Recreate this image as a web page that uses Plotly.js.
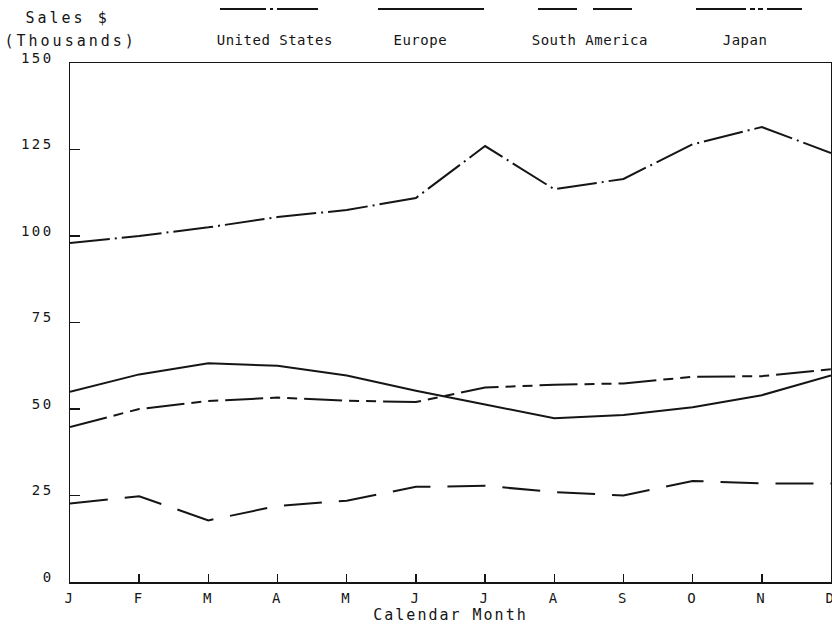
<!DOCTYPE html>
<html>
<head>
<meta charset="utf-8">
<script src="https://cdn.plot.ly/plotly-3.0.1.min.js"></script>
<style>
  html, body { margin: 0; padding: 0; background: #fff; }
  #chart { width: 832px; height: 627px; }
  .main-svg .ytick text, .main-svg .xtick text { letter-spacing: 2.5px; }
</style>
</head>
<body>
<div id="chart"></div>
<script>
// ---- data ----
const months = ['J','F','M','A','M','J','J','A','S','O','N','D'];
const unitedStates = [98, 100, 102.5, 105.5, 107.5, 111, 126, 113.5, 116.5, 126.5, 131.5, 124];
const europe       = [55, 60, 63.2, 62.5, 59.7, 55.3, 51.3, 47.3, 48.3, 50.5, 54, 59.7];
const southAmerica = [22.7, 24.8, 17.8, 22, 23.5, 27.5, 27.8, 26, 25, 29.2, 28.5, 28.5];
const japan        = [44.8, 50, 52.3, 53.3, 52.4, 52, 56.2, 57, 57.4, 59.3, 59.5, 61.5];
const seriesNames  = ['United States', 'Europe', 'South America', 'Japan'];
const yTicks = [0, 25, 50, 75, 100, 125, 150];

const xIdx = months.map((m, i) => i);

// ---- styling ----
const FONT = 'DejaVu Sans Mono, Liberation Mono, monospace';
const INK = '#151515';
const dashes = {
  'United States': '40px,5px,2px,5px',
  'Europe': 'solid',
  'South America': '38px,17px',
  'Japan': '38px,7px,10px,7px,10px,7px'
};
const seriesData = [unitedStates, europe, southAmerica, japan];

const traces = seriesNames.map((name, k) => ({
  type: 'scatter',
  mode: 'lines',
  name: name,
  x: xIdx,
  y: seriesData[k],
  line: { color: INK, width: 2, dash: dashes[name] },
  showlegend: false,
  hoverinfo: 'skip'
}));

// pixel -> paper helpers (plot area: x 70..831, y 63..582)
const L = 70, R = 831, T = 63, B = 582;
const px = v => (v - L) / (R - L);
const py = v => (B - v) / (B - T);

// legend swatches above labels
const legendItems = [
  { name: 'United States', x0: 220, x1: 318, cx: 275 },
  { name: 'Europe',        x0: 378, x1: 484, cx: 420 },
  { name: 'South America', x0: 538, x1: 634, cx: 590 },
  { name: 'Japan',         x0: 696, x1: 802, cx: 745 }
];
const legendDash = {
  'United States': '46px,4px,3px,4px',
  'Europe': 'solid',
  'South America': '39px,16px',
  'Japan': '50px,4px,5px,3px,5px,4px'
};

const shapes = legendItems.map(it => ({
  type: 'line', xref: 'paper', yref: 'paper',
  x0: px(it.x0), x1: px(it.x1), y0: py(9), y1: py(9),
  line: { color: INK, width: 2, dash: legendDash[it.name] }
}));

const annotations = legendItems.map(it => ({
  xref: 'paper', yref: 'paper', x: px(it.cx), y: py(40),
  xanchor: 'center', yanchor: 'middle', showarrow: false,
  text: it.name, font: { family: FONT, size: 14, color: INK }
}));
annotations.push({
  xref: 'paper', yref: 'paper', x: px(67), y: py(18),
  xanchor: 'center', yanchor: 'middle', showarrow: false,
  text: 'Sales $', font: { family: FONT, size: 15, color: INK }
});
annotations.push({
  xref: 'paper', yref: 'paper', x: px(70), y: py(41),
  xanchor: 'center', yanchor: 'middle', showarrow: false,
  text: '(Thousands)', font: { family: FONT, size: 15, color: INK }
});

const layout = {
  width: 832, height: 627,
  margin: { l: 70, r: 1, t: 63, b: 45 },
  paper_bgcolor: '#fff', plot_bgcolor: '#fff',
  font: { family: FONT, color: INK },
  xaxis: {
    range: [0, 11], tickvals: xIdx, ticktext: months,
    ticks: 'inside', ticklen: 8, tickwidth: 1.5, tickcolor: INK,
    showline: true, mirror: true, linecolor: INK, linewidth: 1.5,
    showgrid: false, zeroline: false,
    ticklabeloverflow: 'allow',
    ticklabelstandoff: 3,
    tickfont: { family: FONT, size: 14, color: INK },
    title: { text: 'Calendar Month', font: { family: FONT, size: 15, color: INK }, standoff: 4 }
  },
  yaxis: {
    range: [0, 150], tickvals: yTicks,
    ticks: 'inside', ticklen: 10, tickwidth: 1.5, tickcolor: INK,
    showline: true, mirror: true, linecolor: INK, linewidth: 1.5,
    showgrid: false, zeroline: false,
    tickfont: { family: FONT, size: 14, color: INK },
    ticklabelstandoff: 12,
    ticklabelshift: -5
  },
  shapes: shapes,
  annotations: annotations
};

Plotly.newPlot('chart', traces, layout, { displayModeBar: false, staticPlot: true }).then(() => {
  document.querySelectorAll('.annotation-text').forEach(t => {
    const fs = parseFloat(t.style.fontSize || '0');
    t.style.letterSpacing = fs >= 15 ? '3px' : '0.5px';
  });
  document.querySelectorAll('.g-xtitle text').forEach(t => { t.style.letterSpacing = '2px'; });
});
</script>
</body>
</html>
